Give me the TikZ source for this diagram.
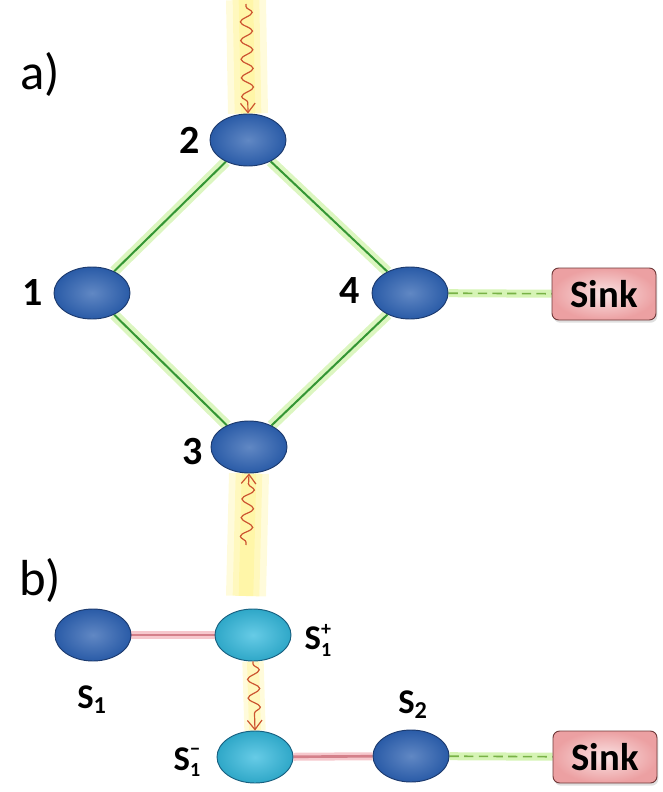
\documentclass[tikz,border=0pt]{standalone}
\usepackage{fontspec}
\setmainfont{Carlito}
\usetikzlibrary{positioning,arrows.meta,shapes.geometric,decorations.pathmorphing,shadows,backgrounds}
\definecolor{siteblue}{RGB}{44,96,176}
\definecolor{siteedge}{RGB}{28,58,110}
\definecolor{sitecyan}{RGB}{52,186,222}
\definecolor{cyanedge}{RGB}{24,96,128}
\definecolor{linkgreen}{RGB}{52,150,52}
\definecolor{glowgreen}{RGB}{196,240,150}
\definecolor{dashgreen}{RGB}{120,178,70}
\definecolor{linkpink}{RGB}{212,128,138}
\definecolor{glowpink}{RGB}{246,200,205}
\definecolor{photonred}{RGB}{204,84,48}
\definecolor{glowyellow}{RGB}{255,238,90}
\definecolor{sinkpink}{RGB}{236,160,162}
\definecolor{sinkedge}{RGB}{110,56,56}
\newcommand{\spinsub}[1]{S\textsubscript{#1}}
\newcommand{\spinlab}[2]{S\raisebox{-5pt}{\fontsize{15}{15}\selectfont\bfseries\shortstack[l]{#2\\[3pt]#1}}}

\begin{document}
\begin{tikzpicture}[x=.75pt,y=-.75pt,
    site/.style={ellipse,draw=siteedge,line width=.7pt,inner color=siteblue!75!white,outer color=siteblue!95!black,minimum width=57pt,minimum height=39pt},
    excited/.style={site,draw=cyanedge,inner color=sitecyan!75!white,outer color=sitecyan!90!black},
    sinkbox/.style={rectangle,rounded corners=5pt,draw=sinkedge,line width=.7pt,inner color=sinkpink!30!white,outer color=sinkpink,minimum width=78pt,minimum height=39pt,drop shadow={opacity=.25,shadow xshift=1pt,shadow yshift=-2pt},font=\fontsize{29}{29}\selectfont\bfseries},
    num/.style={font=\fontsize{30}{30}\selectfont\bfseries},
    spin/.style={font=\fontsize{26}{26}\selectfont\bfseries},
    part/.style={font=\fontsize{38}{38}\selectfont},
    greenlink/.style={draw=linkgreen,line width=1.5pt,preaction={draw=glowgreen,line width=8pt,opacity=.6}},
    pinklink/.style={draw=linkpink,line width=2pt,preaction={draw=glowpink,line width=6pt}},
    dashlink/.style={draw=dashgreen,line width=1.2pt,dash pattern=on 7pt off 4pt,preaction={draw=glowgreen!70,line width=6pt,solid}},
    glow/.style={draw=glowyellow,line width=#1,opacity=.22},
    photon/.style={draw=photonred,line width=.9pt,-{Straight Barb[length=7pt,width=11pt]},decorate,decoration={snake,amplitude=4.5pt,segment length=14pt,pre length=2pt,post length=7pt}}]
  \useasboundingbox (0,0) rectangle (662,792);
  % a) ring of four sites
  \node[part] (lba) at (40,74) {a)};
  \node[site] (n1) at (92,293) {};
  \node[site] (n2) at (248,140) {};
  \node[site] (n3) at (249,447) {};
  \node[site] (n4) at (410,293) {};
  \node[sinkbox] (sinka) at (604,294) {Sink};
  \node[num] at (33,293) {1};
  \node[num] at (190,140) {2};
  \node[num] at (193,452) {3};
  \node[num] at (350,291) {4};
  \coordinate (ina) at (246,4);
  \coordinate (ingla) at (246,0);
  \coordinate (inb) at (246,545);
  \coordinate (inglb) at (246,596);
  % b) two-site picture
  \node[part] (lbb) at (40,580) {b)};
  \node[site] (s1) at (93,635) {};
  \node[excited] (s1p) at (253,635) {};
  \node[excited] (s1m) at (255,757) {};
  \node[site] (s2) at (411,756) {};
  \node[sinkbox] (sinkb) at (605,757) {Sink};
  \node[spin] at (92,700) {\spinsub{1}};
  \node[spin] at (318,640) {\spinlab{1}{+}};
  \node[spin] at (187,762) {\spinlab{1}{−}};
  \node[spin] at (413,705) {\spinsub{2}};
  \begin{scope}[on background layer]
    \foreach \w in {30pt,20pt,11pt} {
      \draw[glow=\w] (ingla) -- (n2.north);
      \draw[glow=\w] (inglb) -- (n3.south);
    }
    \foreach \w in {16pt,9pt} \draw[glow=\w] (s1p.south) -- (s1m.north);
    \draw[greenlink] (n1) -- (n2);
    \draw[greenlink] (n2) -- (n4);
    \draw[greenlink] (n1) -- (n3);
    \draw[greenlink] (n3) -- (n4);
    \draw[dashlink] (n4) -- (sinka);
    \draw[pinklink] (s1) -- (s1p);
    \draw[pinklink] (s1m) -- (s2);
    \draw[dashlink] (s2) -- (sinkb);
  \end{scope}
  \draw[photon] (ina) -- (n2.north);
  \draw[photon] (inb) -- (n3.south);
  \draw[photon] (s1p.south) -- (s1m.north);
\end{tikzpicture}
\end{document}
